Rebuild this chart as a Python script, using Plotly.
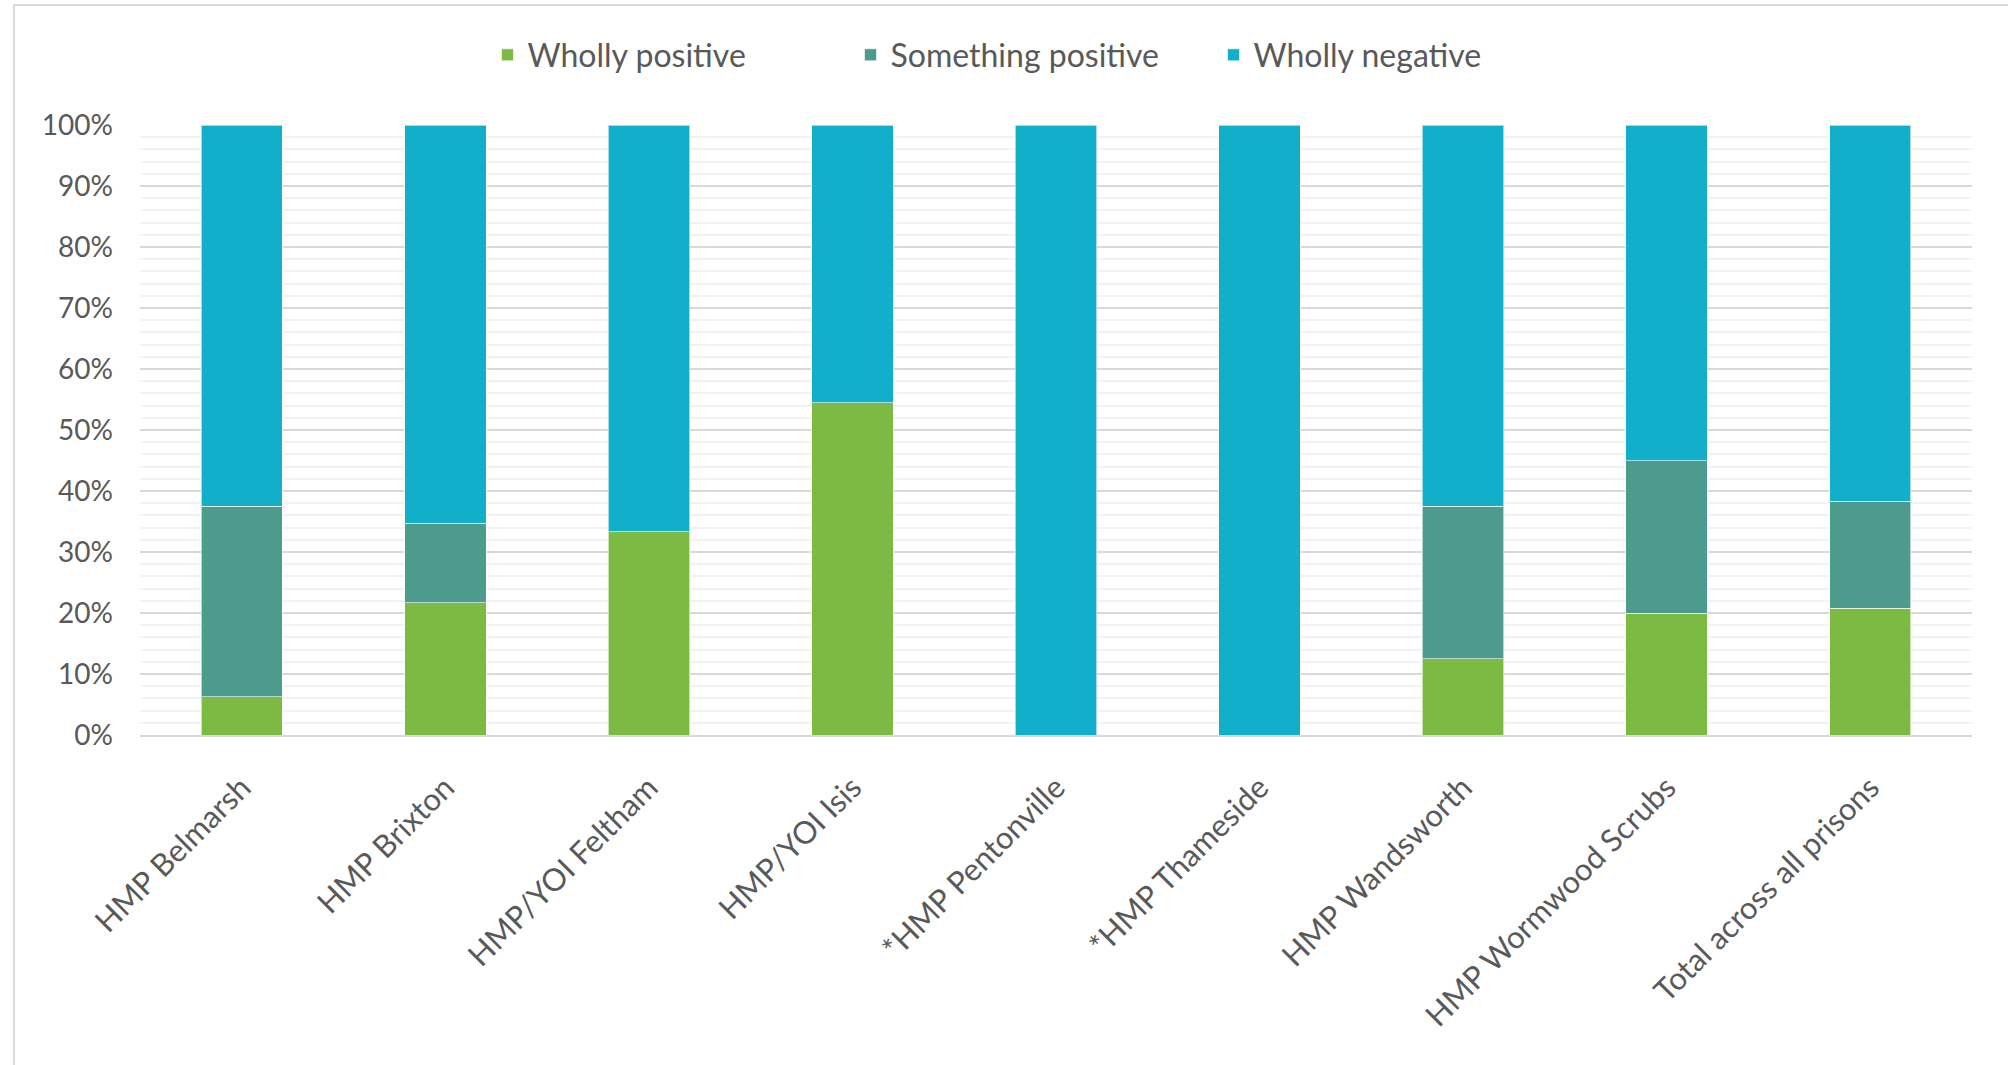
import plotly.graph_objects as go

categories = ["HMP Belmarsh", "HMP Brixton", "HMP/YOI Feltham", "HMP/YOI Isis",
              "*HMP Pentonville", "*HMP Thameside", "HMP Wandsworth",
              "HMP Wormwood Scrubs", "Total across all prisons"]
wholly_positive = [6.25, 21.7, 33.3, 54.5, 0, 0, 12.5, 20.0, 20.8]
something_positive = [31.25, 13.0, 0, 0, 0, 0, 25.0, 25.0, 17.5]
wholly_negative = [62.5, 65.3, 66.7, 45.5, 100, 100, 62.5, 55.0, 61.7]
y_ticks = [0, 10, 20, 30, 40, 50, 60, 70, 80, 90, 100]
y_tick_labels = [f"{v}%" for v in y_ticks]

series = [
    ("Wholly positive", wholly_positive, "#7CBA43"),
    ("Something positive", something_positive, "#4D9B8D"),
    ("Wholly negative", wholly_negative, "#12AFCB"),
]

TEXT = "#595959"
FONT = "Lato"

fig = go.Figure()
for name, vals, col in series:
    fig.add_trace(go.Bar(
        x=categories, y=vals, name=name,
        marker=dict(color=col, line=dict(color="rgba(255,255,255,0.6)", width=1)),
    ))

W, H = 2008, 1065
L, R, T, B = 140, 36, 125, 330
pw, ph = W - L - R, H - T - B

def px_x(p):
    return (p - L) / pw

def px_y(p):
    return (H - B - p) / ph

fig.update_layout(
    width=W, height=H,
    margin=dict(l=L, r=R, t=T, b=B, autoexpand=False),
    barmode="stack", bargap=0.6,
    paper_bgcolor="white", plot_bgcolor="white",
    font=dict(family=FONT, color=TEXT, size=28),
    legend=dict(orientation="h", x=px_x(1032), y=px_y(55), xanchor="center", yanchor="middle",
                font=dict(size=32, color=TEXT), traceorder="normal",
                entrywidth=318, entrywidthmode="pixels"),
    xaxis=dict(tickangle=-45, showgrid=False, showline=True, linecolor="#D9D9D9", linewidth=2,
               ticks="", tickfont=dict(size=31, color=TEXT), ticklabelstandoff=20),
    yaxis=dict(range=[0, 100], tickvals=y_ticks, ticktext=y_tick_labels,
               showgrid=True, gridcolor="#D9D9D9", gridwidth=1.5, zeroline=False,
               showline=False, ticks="", tickfont=dict(size=28, color=TEXT),
               ticklabelstandoff=26,
               minor=dict(dtick=2, showgrid=True, gridcolor="#F2F2F2", gridwidth=1.5)),
    shapes=[dict(type="rect", xref="paper", yref="paper",
                 x0=px_x(14), x1=px_x(2030), y0=px_y(1090), y1=px_y(5),
                 line=dict(color="#D9D9D9", width=2), fillcolor="rgba(0,0,0,0)", layer="below")],
)

fig.write_html("out.html")
